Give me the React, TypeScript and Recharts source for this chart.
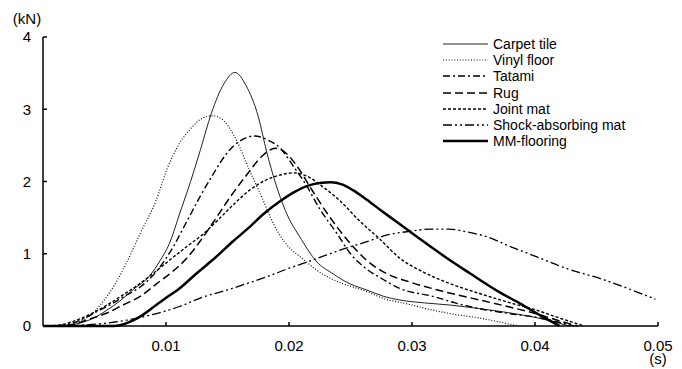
import { LineChart, Line, XAxis, YAxis, Legend } from "recharts"

// impact force curves, [time (s), force (kN)]
const carpetTile: [number, number][] = [
  [0, 0], [0.002, 0.01], [0.003, 0.04], [0.004, 0.1], [0.0052, 0.22], [0.0062, 0.34],
  [0.0073, 0.5], [0.0087, 0.7], [0.0095, 0.9], [0.0103, 1.15], [0.0111, 1.55],
  [0.012, 2.0], [0.0128, 2.44], [0.0137, 2.95], [0.0147, 3.35], [0.0156, 3.51], [0.0165, 3.33],
  [0.0175, 2.9], [0.0182, 2.4], [0.0189, 1.98], [0.0197, 1.6], [0.021, 1.2],
  [0.0222, 0.9], [0.0236, 0.72], [0.025, 0.58], [0.0263, 0.5], [0.0277, 0.41],
  [0.029, 0.36], [0.031, 0.32], [0.0331, 0.29], [0.0355, 0.24], [0.038, 0.18],
  [0.04, 0.12], [0.0415, 0.06], [0.0428, 0],
]
const vinylFloor: [number, number][] = [
  [0, 0], [0.0015, 0], [0.0022, 0.02], [0.003, 0.07], [0.0038, 0.14], [0.0046, 0.28],
  [0.0052, 0.41], [0.006, 0.62], [0.0068, 0.88], [0.0079, 1.28], [0.0092, 1.74],
  [0.0101, 2.18], [0.011, 2.5], [0.0121, 2.75], [0.013, 2.88], [0.0138, 2.91],
  [0.0147, 2.84], [0.0157, 2.58], [0.0168, 2.15], [0.0179, 1.74], [0.0185, 1.5],
  [0.0191, 1.3], [0.0201, 1.07], [0.0209, 0.96], [0.0222, 0.78], [0.0236, 0.64],
  [0.025, 0.55], [0.0263, 0.48], [0.0277, 0.38], [0.0295, 0.31], [0.0317, 0.22],
  [0.0335, 0.16], [0.0355, 0.11], [0.037, 0.06], [0.0387, 0],
]
const tatami: [number, number][] = [
  [0, 0], [0.0015, 0.01], [0.0024, 0.04], [0.0035, 0.12], [0.0046, 0.22], [0.0052, 0.27],
  [0.0065, 0.4], [0.0079, 0.54], [0.0092, 0.75], [0.0106, 1.1], [0.0117, 1.45],
  [0.0128, 1.8], [0.0139, 2.12], [0.0149, 2.38], [0.016, 2.56], [0.0172, 2.63],
  [0.0182, 2.58], [0.0193, 2.46], [0.0204, 2.2], [0.0214, 1.95], [0.0225, 1.62],
  [0.0239, 1.28], [0.025, 1.0], [0.0263, 0.79], [0.0277, 0.64], [0.029, 0.52],
  [0.0317, 0.41], [0.0335, 0.32], [0.0355, 0.24], [0.038, 0.17], [0.0401, 0.12],
  [0.042, 0.05], [0.0432, 0],
]
const rug: [number, number][] = [
  [0, 0], [0.0015, 0], [0.0024, 0.02], [0.0035, 0.08], [0.0052, 0.18], [0.0065, 0.29],
  [0.0079, 0.41], [0.0092, 0.58], [0.0105, 0.75], [0.0117, 0.94], [0.0128, 1.18],
  [0.0139, 1.45], [0.0152, 1.78], [0.0166, 2.1], [0.0178, 2.35], [0.0189, 2.46],
  [0.0197, 2.4], [0.0207, 2.2], [0.0218, 1.9], [0.0231, 1.56], [0.025, 1.14],
  [0.0263, 0.91], [0.028, 0.72], [0.0298, 0.61], [0.0325, 0.48], [0.0355, 0.36],
  [0.038, 0.26], [0.0401, 0.17], [0.042, 0.07], [0.0435, 0],
]
const jointMat: [number, number][] = [
  [0, 0], [0.0012, 0.01], [0.0024, 0.06], [0.0038, 0.16], [0.0052, 0.29], [0.0065, 0.43],
  [0.0079, 0.59], [0.0092, 0.76], [0.0105, 0.94], [0.0117, 1.1], [0.013, 1.27],
  [0.0143, 1.48], [0.0156, 1.7], [0.0168, 1.88], [0.018, 2.01], [0.0193, 2.09],
  [0.0204, 2.12], [0.0215, 2.07], [0.0228, 1.92], [0.0241, 1.74], [0.0257, 1.46],
  [0.0274, 1.2], [0.029, 0.94], [0.031, 0.74], [0.0332, 0.58], [0.0355, 0.45],
  [0.038, 0.32], [0.0401, 0.22], [0.042, 0.11], [0.044, 0],
]
const shockMat: [number, number][] = [
  [0, 0], [0.0015, 0], [0.003, 0.01], [0.0052, 0.04], [0.0068, 0.08], [0.0087, 0.15],
  [0.0111, 0.27], [0.013, 0.4], [0.015, 0.5], [0.0168, 0.6], [0.0185, 0.7], [0.02, 0.8],
  [0.0214, 0.88], [0.023, 0.98], [0.0245, 1.07], [0.0262, 1.16], [0.028, 1.26],
  [0.0298, 1.31], [0.0315, 1.34], [0.033, 1.34], [0.0345, 1.3], [0.036, 1.24],
  [0.038, 1.1], [0.0401, 0.96], [0.0425, 0.8], [0.0456, 0.64], [0.048, 0.49], [0.0498, 0.37],
]
const mmFlooring: [number, number][] = [
  [0, 0], [0.0058, 0], [0.0065, 0.02], [0.0071, 0.06], [0.008, 0.14], [0.0092, 0.29],
  [0.0101, 0.4], [0.0111, 0.52], [0.0125, 0.73], [0.0139, 0.93], [0.0155, 1.18],
  [0.0166, 1.34], [0.018, 1.56], [0.0193, 1.73], [0.0205, 1.86], [0.0215, 1.94],
  [0.0225, 1.98], [0.0234, 1.99], [0.0243, 1.96], [0.0252, 1.88], [0.0263, 1.75],
  [0.0274, 1.61], [0.0286, 1.46], [0.0298, 1.31], [0.0315, 1.1], [0.033, 0.92],
  [0.0347, 0.73], [0.037, 0.48], [0.0388, 0.31], [0.0405, 0.14], [0.042, 0],
]

const xTicks = [0.01, 0.02, 0.03, 0.04, 0.05]
const yTicks = [0, 1, 2, 3, 4]

const font = "'Liberation Sans', Arial, sans-serif"

const series = [
  { name: "Carpet tile", data: carpetTile, width: 1, dash: undefined, color: "#222" },
  { name: "Vinyl floor", data: vinylFloor, width: 1.2, dash: "1 1.8", color: "#111" },
  { name: "Tatami", data: tatami, width: 1.4, dash: "7 3 2 3", color: "#000" },
  { name: "Rug", data: rug, width: 1.5, dash: "8 4", color: "#000" },
  { name: "Joint mat", data: jointMat, width: 1.4, dash: "3 2", color: "#000" },
  { name: "Shock-absorbing mat", data: shockMat, width: 1.3, dash: "9 3 2 3 2 3", color: "#000" },
  { name: "MM-flooring", data: mmFlooring, width: 2.5, dash: undefined, color: "#000" },
]

const YTick = (props: any) => {
  const { x, y, payload } = props
  return (
    <g>
      <line x1={x + 12} x2={x + 16} y1={y} y2={y} stroke="#000" strokeWidth={1.5} />
      <text x={x} y={y} dy="0.355em" textAnchor="end" fontSize={15} fontFamily={font} fill="#000">
        {payload.value}
      </text>
    </g>
  )
}

const XTick = (props: any) => {
  const { x, y, payload } = props
  return (
    <g>
      <line x1={x} x2={x} y1={y - 14} y2={y - 18} stroke="#000" strokeWidth={1.5} />
      <text x={x} y={y} dy="0.71em" textAnchor="middle" fontSize={15} fontFamily={font} fill="#000">
        {payload.value.toFixed(2)}
      </text>
    </g>
  )
}

const LegendBox = () => (
  <div style={{ fontFamily: font, fontSize: 14, color: "#000" }}>
    {series.map((s) => (
      <div key={s.name} style={{ display: "flex", alignItems: "center", height: 16.2 }}>
        <svg width={50} height={10}>
          <line x1={0} x2={45} y1={5} y2={5} stroke={s.color} strokeWidth={s.width} strokeDasharray={s.dash} />
        </svg>
        <span style={{ lineHeight: "16px" }}>{s.name}</span>
      </div>
    ))}
  </div>
)

export default function App() {
  return (
    <div style={{ position: "absolute", left: 0, top: 0 }}>
      <LineChart width={682} height={369} margin={{ top: 37, right: 24, left: 0, bottom: 0 }}>
        <XAxis
          dataKey="t"
          type="number"
          domain={[0, 0.05]}
          ticks={xTicks}
          tickSize={6}
          tickMargin={8}
          tickLine={false}
          height={43}
          stroke="#000"
          strokeWidth={1.5}
          tick={<XTick />}
          label={{
            content: (p: any) => (
              <text x={p.viewBox.x + p.viewBox.width} y={p.viewBox.y + 38} textAnchor="middle" fontSize={15} fontFamily={font} fill="#000">
                (s)
              </text>
            ),
          }}
        />
        <YAxis
          type="number"
          domain={[0, 4]}
          ticks={yTicks}
          width={43}
          tickSize={6}
          tickMargin={6}
          tickLine={false}
          stroke="#000"
          strokeWidth={1.5}
          tick={<YTick />}
          label={{
            content: (p: any) => (
              <text x={p.viewBox.x + p.viewBox.width - 16} y={p.viewBox.y - 13} textAnchor="middle" fontSize={15} fontFamily={font} fill="#000">
                (kN)
              </text>
            ),
          }}
        />
        <Legend
          layout="vertical"
          align="center"
          verticalAlign="middle"
          wrapperStyle={{ top: 36, left: 443, width: 220 }}
          content={<LegendBox />}
        />
        {series.map((s) => (
          <Line
            key={s.name}
            name={s.name}
            data={s.data.map(([t, v]) => ({ t, v }))}
            dataKey="v"
            type="monotone"
            stroke={s.color}
            strokeWidth={s.width}
            strokeDasharray={s.dash}
            dot={false}
            activeDot={false}
            isAnimationActive={false}
          />
        ))}
      </LineChart>
    </div>
  )
}
